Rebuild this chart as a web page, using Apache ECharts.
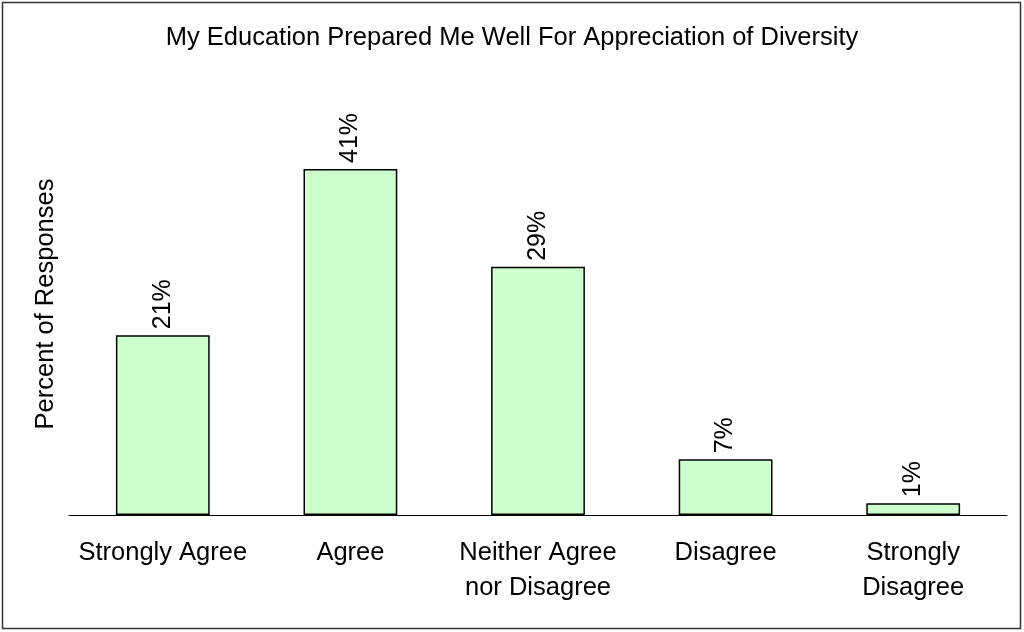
<!DOCTYPE html>
<html><head><meta charset="utf-8">
<script src="https://cdn.jsdelivr.net/npm/echarts@6/dist/echarts.min.js"></script>
<style>html,body{margin:0;padding:0;background:#fff}#c{width:1024px;height:632px;}</style>
</head><body><div id="c"></div>
<script>
const categories = ["Strongly Agree", "Agree", "Neither Agree\nnor Disagree", "Disagree", "Strongly\nDisagree"];
const percentValues = [21.3, 41.0, 29.4, 6.6, 1.4];
const chartTitle = "My Education Prepared Me Well For Appreciation of Diversity";
const yAxisName = "Percent of Responses";

const chart = echarts.init(document.getElementById('c'));
const font = '"Liberation Sans", Arial, sans-serif';
chart.setOption({
  animation: false,
  backgroundColor: '#fff',
  graphic: [{
    type: 'rect', shape: {x: 2.5, y: 2.5, width: 1018, height: 626},
    style: {fill: null, stroke: '#333', lineWidth: 1.5}, silent: true, z: -1
  }],
  title: {
    text: chartTitle, left: 'center', top: 20,
    textStyle: {fontFamily: font, fontSize: 25.5, fontWeight: 'normal', color: '#000'}
  },
  grid: {left: 69, right: 17, top: 93, bottom: 117, containLabel: false},
  xAxis: {
    type: 'category', data: categories,
    axisLine: {show: true, lineStyle: {color: '#000', width: 1}},
    axisTick: {show: false},
    axisLabel: {fontFamily: font, fontSize: 25.5, color: '#000', margin: 20, lineHeight: 35, interval: 0}
  },
  yAxis: {
    type: 'value', min: 0, max: 50,
    name: yAxisName, nameLocation: 'middle', nameGap: 10, nameRotate: 90,
    nameTextStyle: {fontFamily: font, fontSize: 25.5, color: '#000'},
    axisLine: {show: false}, axisTick: {show: false}, axisLabel: {show: false},
    splitLine: {show: false}
  },
  series: [{
    type: 'bar', data: percentValues, barCategoryGap: '50%',
    itemStyle: {color: '#CCFFCC', borderColor: '#000', borderWidth: 1.5},
    label: {
      show: true, position: 'top', rotate: 90, align: 'left', verticalAlign: 'middle', distance: 6,
      fontFamily: font, fontSize: 25, color: '#000',
      formatter: p => Math.round(p.value) + '%'
    }
  }]
});
</script></body></html>
